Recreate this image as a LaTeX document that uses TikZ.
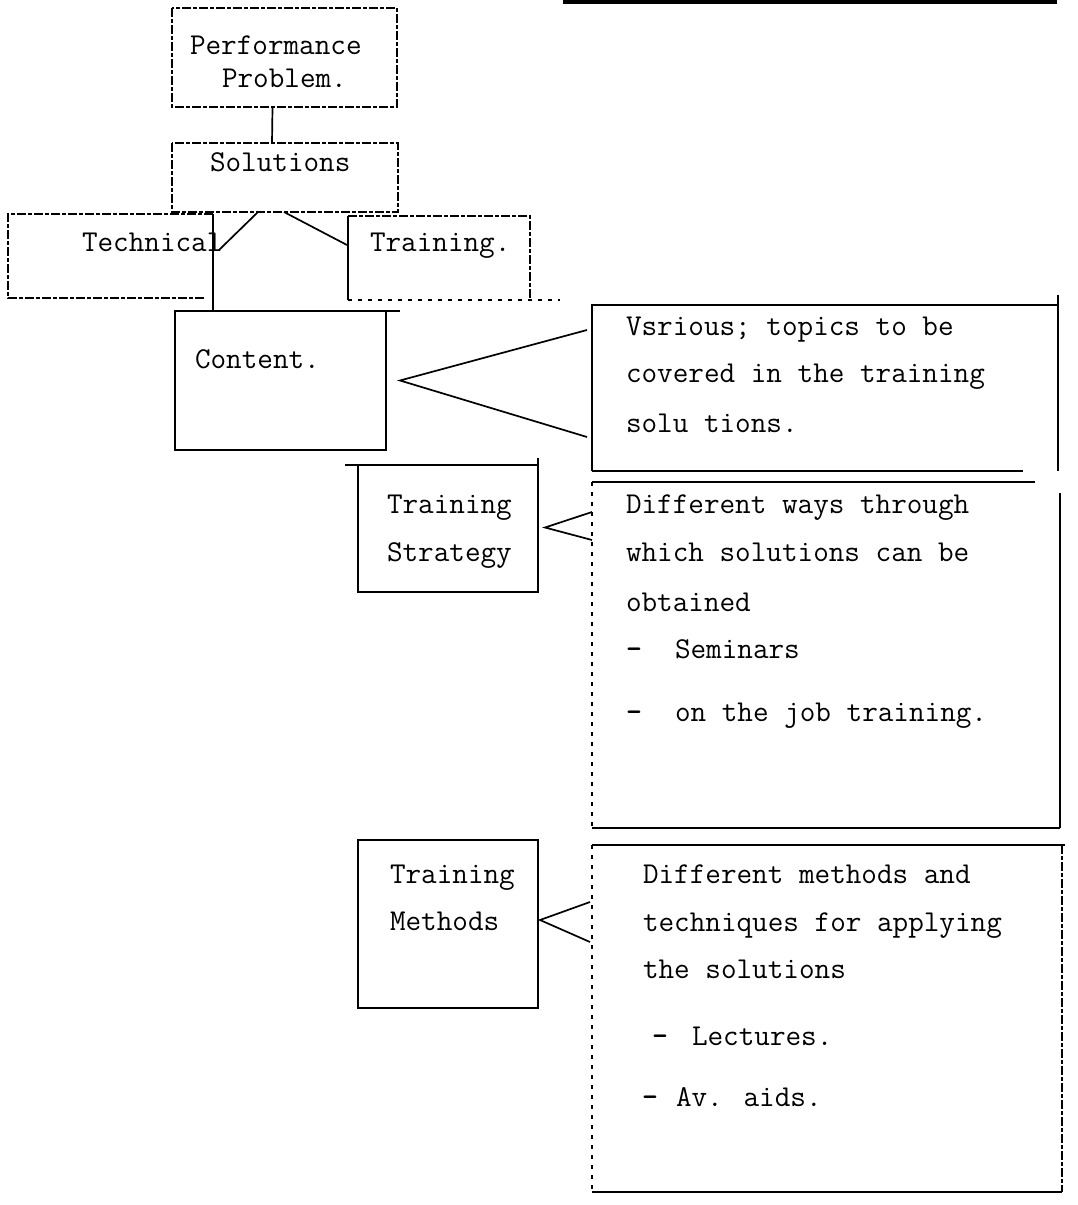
\documentclass[tikz,border=0pt]{standalone}
\usepackage{fontspec}
\begin{document}
\begin{tikzpicture}[x=1pt,y=-1pt,
  every node/.style={inner sep=0pt, outer sep=0pt},
  txt/.style={anchor=mid west, yshift=-6pt, font=\fontsize{30.3}{34}\ttfamily},
  bullet/.style={txt, font=\fontsize{30.3}{34}\ttfamily\bfseries},
  frame/.style={draw=none, anchor=north west},
  faint/.style={line width=1.1pt, dash pattern=on 9pt off 2pt on 4pt off 2pt},
  edge/.style={line width=1.9pt},
  heavy/.style={line width=2.6pt},
  dots/.style={line width=1.1pt, dash pattern=on 4pt off 6pt},
  link/.style={line width=1.7pt}]
\useasboundingbox (0,0) rectangle (1078,1205);

% rule across the head of the page
\coordinate (ruleL) at (563,2);
\coordinate (ruleR) at (1057,2);
\draw[line width=3.5pt] (ruleL) -- (ruleR);

% ---- box frames ----
\node[frame, minimum width=225pt, minimum height=99pt]  (pp)      at (172,8)   {};
\node[frame, minimum width=226pt, minimum height=69pt]  (sol)     at (172,143) {};
\node[frame, minimum width=205pt, minimum height=84pt]  (tech)    at (8,214)   {};
\node[frame, minimum width=182pt, minimum height=84pt]  (train)   at (348,216) {};
\node[frame, minimum width=211pt, minimum height=139pt] (content) at (175,311) {};
\node[frame, minimum width=180pt, minimum height=127pt] (strat)   at (358,465) {};
\node[frame, minimum width=180pt, minimum height=168pt] (meth)    at (358,840) {};
\node[frame, minimum width=466pt, minimum height=166pt] (box1)    at (592,305) {};
\node[frame, minimum width=468pt, minimum height=346pt] (box2)    at (592,482) {};
\node[frame, minimum width=470pt, minimum height=347pt] (box3)    at (592,845) {};

% Performance problem / solutions
\draw[faint] (pp.north west) rectangle (pp.south east);
\draw[faint] (sol.north west) rectangle (sol.south east);

% technical
\draw[faint] (tech.north east) -- (tech.north west) -- (tech.south west) -- ([xshift=-8pt]tech.south east);
\draw[edge] (tech.north east) -- (tech.south east |- content.north);

% training
\draw[edge] (train.north west) -- (train.south west);
\draw[faint] (train.north west) -- (train.north east) -- (train.south east);
\draw[dots] (train.south west) -- ([xshift=30pt]train.south east);

% content
\draw[edge] (content.north west) rectangle (content.south east);
\draw[edge] (content.north east) -- ([xshift=14pt]content.north east);

% training strategy
\draw[edge] (strat.north west) rectangle (strat.south east);
\draw[heavy] ([xshift=-13pt]strat.north west) -- (strat.north east) -- ([yshift=7pt]strat.north east);

% training methods
\draw[edge] (meth.north west) rectangle (meth.south east);
\draw[heavy] (meth.north west) -- (meth.north east);
\draw[heavy] (meth.south west) -- (meth.south east);

% topics box
\draw[edge] (box1.south west) -- (box1.north west) -- (box1.north east) -- (box1.south east);
\draw[edge] (box1.north east) -- ([yshift=10pt]box1.north east);
\draw[heavy] (box1.south west) -- ([xshift=-35pt]box1.south east);

% strategy description box
\draw[dots] (box2.north west) -- (box2.south west);
\draw[edge] (box2.north west) -- ([xshift=-25pt]box2.north east);
\draw[edge] ([yshift=-11pt]box2.north east) -- (box2.south east);
\draw[heavy] (box2.south west) -- (box2.south east);

% methods description box
\draw[heavy] (box3.north west) -- ([xshift=3pt]box3.north east);
\draw[dots] (box3.north west) -- (box3.south west);
\draw[faint] (box3.north east) -- (box3.south east);
\draw[heavy] (box3.south west) -- (box3.south east);

% ---- connectors ----
\draw[link] ([xshift=-12pt]pp.south) -- ([xshift=-13pt]sol.north);
\draw[link] ([xshift=-27pt]sol.south) -- ([shift={(6pt,6pt)}]tech.east);
\draw[link] ([xshift=-1pt]sol.south) -- ([shift={(-1pt,13pt)}]train.west);

\coordinate (cApex) at ([xshift=14pt]content.east);
\draw[link] ([shift={(-5pt,-25pt)}]box1.north west) -- (cApex) -- ([shift={(-5pt,-132pt)}]box1.north west);

\coordinate (sApex) at ([shift={(7pt,1pt)}]strat.east);
\draw[link] ([yshift=-30pt]box2.north west) -- (sApex) -- ([yshift=-58pt]box2.north west);

\coordinate (mApex) at ([shift={(2pt,4pt)}]meth.east);
\draw[link] ([shift={(-2pt,-57pt)}]box3.north west) -- (mApex) -- ([shift={(-2pt,-97pt)}]box3.north west);

% ---- texts ----
\node[txt] (tPerf)  at (190,46)  {Performance};
\node[txt] (tProb)  at (222,79)  {Problem.};
\node[txt] (tSol)   at (210,163) {Solutions};
\node[txt] (tTech)  at (82,243)  {Technical};
\node[txt] (tTrain) at (370,243) {Training.};
\node[txt] (tCont)  at (195,360) {Content.};
\node[txt] (tStr1)  at (387,505) {Training};
\node[txt] (tStr2)  at (387,553) {Strategy};
\node[txt] (tMet1)  at (390,875) {Training};
\node[txt] (tMet2)  at (390,922) {Methods};

\node[txt] (a1) at (626,327) {Vsrious; topics to be};
\node[txt] (a2) at (626,374) {covered in the training};
\node[txt] (a3) at (626,424) {solu tions.};

\node[txt] (b1) at (626,505) {Different ways through};
\node[txt] (b2) at (626,553) {which solutions can be};
\node[txt] (b3) at (626,603) {obtained};
\node[bullet] (b4d) at (626,650) {-};
\node[txt] (b4) at (675,650) {Seminars};
\node[bullet] (b5d) at (626,713) {-};
\node[txt] (b5) at (675,713) {on the job training.};

\node[txt] (c1) at (643,875) {Different methods and};
\node[txt] (c2) at (643,923) {techniques for applying};
\node[txt] (c3) at (643,970) {the solutions};
\node[bullet] (c4d) at (652,1037) {-};
\node[txt] (c4) at (692,1037) {Lectures.};
\node[bullet] (c5d) at (642,1098) {-};
\node[txt] (c5) at (676,1098) {Av. aids.};
\end{tikzpicture}
\end{document}
